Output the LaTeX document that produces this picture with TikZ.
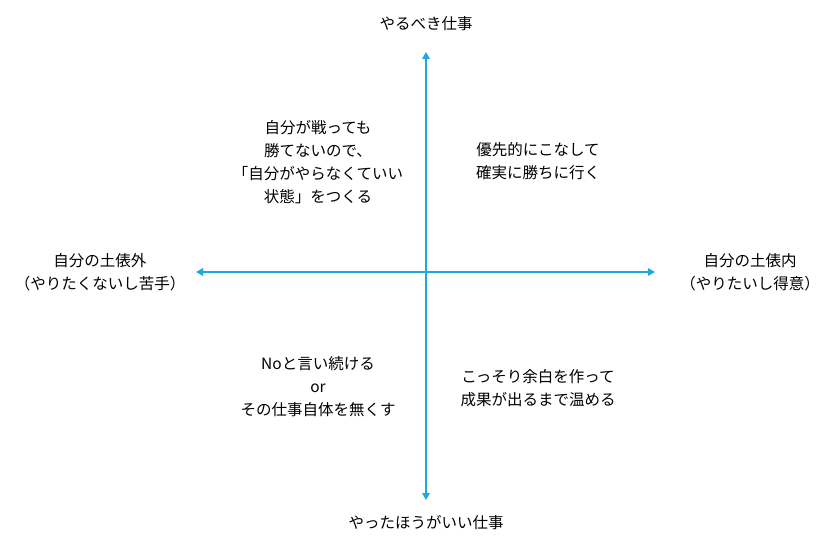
\documentclass[tikz,border=0pt]{standalone}
\usepackage{fontspec}
\setmainfont{Noto Sans CJK JP}
\usepackage{xcolor}
\usetikzlibrary{arrows.meta,positioning}
\definecolor{axisblue}{HTML}{1FA7E0}

\begin{document}
\begin{tikzpicture}[
    x=1pt, y=1pt,
    lbl/.style={align=center, font=\fontsize{15.5}{23}\selectfont, inner sep=0pt},
    axis/.style={{Triangle[length=7pt,width=7.5pt]}-{Triangle[length=7pt,width=7.5pt]}, line width=1.8pt, draw=axisblue}
]
    \useasboundingbox (0,0) rectangle (835,547);
    % axis ends
    \coordinate (top) at (426,495);
    \coordinate (bot) at (426,47);
    \coordinate (lft) at (196,275);
    \coordinate (rgt) at (655,275);
    \draw[axis] (bot) -- (top);
    \draw[axis] (lft) -- (rgt);
    % axis labels
    \node[lbl] (must) at (426,523) {やるべき仕事};
    \node[lbl] (better) at (426,24) {やったほうがいい仕事};
    \node[lbl] (outside) at (100,275) {自分の土俵外\\（やりたくないし苦手）};
    \node[lbl] (inside) at (750,275) {自分の土俵内\\（やりたいし得意）};
    % quadrants
    \node[lbl] (tl) at (318,385) {自分が戦っても\\勝てないので、\\「自分がやらなくていい\\状態」をつくる};
    \node[lbl] (tr) at (538,386) {優先的にこなして\\確実に勝ちに行く};
    \node[lbl] (bl) at (318,160) {Noと言い続ける\\or\\その仕事自体を無くす};
    \node[lbl] (br) at (538,159) {こっそり余白を作って\\成果が出るまで温める};
\end{tikzpicture}
\end{document}
